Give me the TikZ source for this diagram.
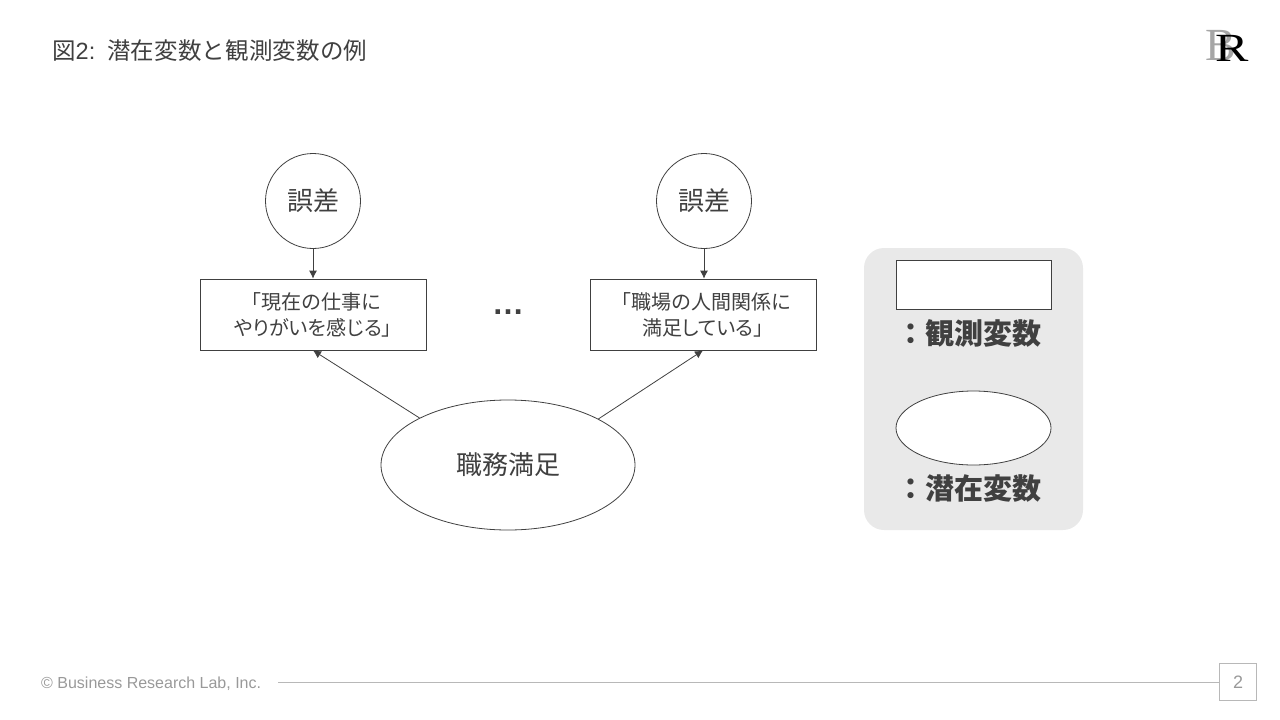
\documentclass[tikz,border=0pt]{standalone}
\usepackage{fontspec}
\usepackage[HTML]{xcolor}
\usetikzlibrary{shapes.geometric, arrows.meta}
\setmainfont{Liberation Sans}
\newfontfamily\cjk{Noto Sans CJK JP}
\newfontfamily\cjkp[RawFeature=+palt]{Noto Sans CJK JP}
\newfontfamily\logofont{Liberation Serif}
\definecolor{ink}{HTML}{404040}
\definecolor{foot}{HTML}{999999}
\definecolor{panel}{HTML}{E9E9E9}
\tikzset{
  shapeline/.style={draw=ink,line width=0.8pt,fill=white,inner sep=0pt},
  arr/.style={-{Latex[length=8pt,width=8pt]},draw=ink,line width=0.8pt},
  errnode/.style={shapeline,circle,minimum size=95pt,font=\cjk\fontsize{26}{30}\selectfont},
  itemnode/.style={shapeline,rectangle,minimum width=226pt,minimum height=71pt,align=center,font=\cjk\fontsize{20}{26}\selectfont},
  legendtext/.style={inner sep=0pt,font=\cjk\bfseries\fontsize{29}{33}\selectfont}
}
\begin{document}
\begin{tikzpicture}[x=1pt,y=-1pt,text=ink]
\useasboundingbox (0,0) rectangle (1280,720);
% header and footer
\node[anchor=west,inner sep=0pt,font=\fontsize{23.5}{28}\selectfont] (title) at (52,51) {{\cjk 図}2:\hspace{3pt} {\cjk\addfontfeature{LetterSpace=0.8} 潜在変数と観測変数の例}};
\node[inner sep=0pt,text=gray!70,font=\logofont\fontsize{46}{46}\selectfont] (logob) at (1221,46) {B};
\node[inner sep=0pt,text=black,xscale=1.25,font=\logofont\fontsize{40}{40}\selectfont] (logor) at (1232.5,48) {R};
\node[anchor=west,inner sep=0pt,text=foot,font=\fontsize{16}{20}\selectfont] (copy) at (41,684) {© Business Research Lab, Inc.};
\node[draw=foot!70,line width=0.8pt,minimum size=37pt,inner sep=0pt,text=foot,font=\fontsize{18}{20}\selectfont] (page) at (1238,682) {2\hspace{3pt}};
\coordinate (rulestart) at (278,682);
\draw[foot!70,line width=0.8pt] (rulestart) -- (page.west);
% model
\node[errnode] (err1) at (313,201) {誤差};
\node[errnode] (err2) at (704,201) {誤差};
\node[itemnode] (item1) at (313,314.5) {\hspace{-4pt}「現在の仕事に\\{\cjkp やりがいを感じる」}};
\node[itemnode] (item2) at (703,314.5) {\hspace{-4pt}「職場の人間関係に\\{\cjkp 満足している」}};
\node[shapeline,ellipse,minimum width=254pt,minimum height=130pt,font=\cjk\fontsize{26}{30}\selectfont] (job) at (508,465) {職務満足};
\node[inner sep=0pt,font=\bfseries\fontsize{32}{34}\selectfont] (dots) at (508,312) {…};
\draw[arr] (err1) -- (item1);
\draw[arr] (err2) -- (item2.north -| err2);
\draw[arr] (job.152.4) -- (item1.south);
\draw[arr] (job.27.6) -- (item2.south);
% legend
\node[fill=panel,rounded corners=20pt,minimum width=219pt,minimum height=282pt,inner sep=0pt] (panel) at (973.5,389) {};
\node[shapeline,rectangle,minimum width=155pt,minimum height=49pt] (legrect) at (973.5,284.5) {};
\node[legendtext] (legobs) at (968.5,333) {：観測変数};
\node[shapeline,ellipse,minimum width=155pt,minimum height=74pt] (legell) at (973.5,428) {};
\node[legendtext] (leglat) at (968.5,489) {：潜在変数};
\end{tikzpicture}
\end{document}
